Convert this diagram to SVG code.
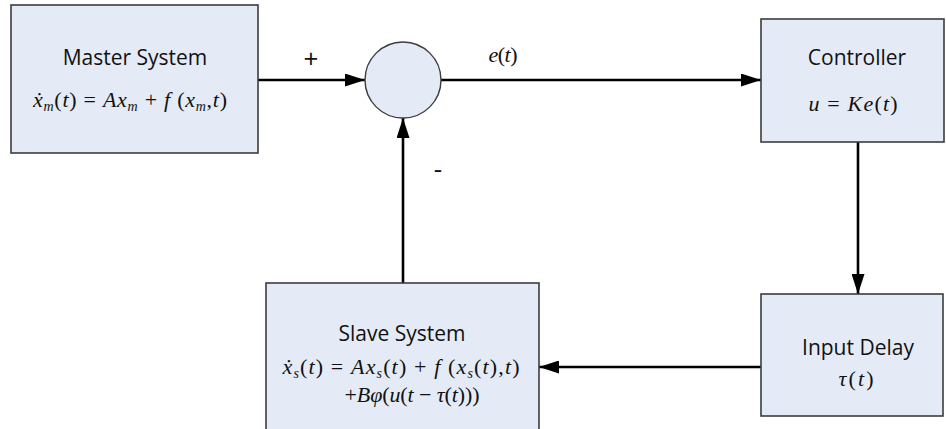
<svg xmlns="http://www.w3.org/2000/svg" width="946" height="429" viewBox="0 0 946 429">
<style>
.box{fill:#E5EBF6;stroke:#3c3c3c;stroke-width:1.6}
.title{font-family:"Open Sans","Liberation Sans",sans-serif;font-size:21px;fill:#111;text-anchor:middle}
.math{font-family:"Liberation Serif","DejaVu Serif",serif;font-size:22px;fill:#111;text-anchor:middle}
.i{font-style:italic}
.sub{font-style:italic;font-size:14px}
.sign{font-family:"Open Sans","Liberation Sans",sans-serif;font-size:26px;fill:#111;text-anchor:middle}
.wire{stroke:#000;stroke-width:2.6;fill:none}
</style>
<defs>
<marker id="arr" markerUnits="userSpaceOnUse" markerWidth="20" markerHeight="13" refX="20" refY="6.5" orient="auto">
<path d="M0,0 L20,6.5 L0,13 z" fill="#000"/>
</marker>
</defs>
<g id="connectors">
<line class="wire" x1="258" y1="80" x2="365" y2="80" marker-end="url(#arr)"/>
<line class="wire" x1="441" y1="80" x2="761" y2="80" marker-end="url(#arr)"/>
<line class="wire" x1="858" y1="142" x2="858" y2="294" marker-end="url(#arr)"/>
<line class="wire" x1="761" y1="367" x2="539" y2="367" marker-end="url(#arr)"/>
<line class="wire" x1="403" y1="283" x2="403" y2="118" marker-end="url(#arr)"/>
<text class="sign" x="311" y="68">+</text>
<text class="sign" x="438" y="178">-</text>
<text class="math" x="503" y="62" textLength="29" lengthAdjust="spacing"><tspan class="i">e</tspan>(<tspan class="i">t</tspan>)</text>
</g>
<g id="master">
<rect class="box" x="11" y="5" width="247" height="148"/>
<text class="title" x="135" y="65">Master System</text>
<text class="math" x="130" y="107" textLength="194" lengthAdjust="spacing"><tspan class="i">ẋ</tspan><tspan class="sub" dy="4">m</tspan><tspan dy="-4">(</tspan><tspan class="i">t</tspan>) = <tspan class="i">Ax</tspan><tspan class="sub" dy="4">m</tspan><tspan dy="-4"> + </tspan><tspan class="i">f</tspan> (<tspan class="i">x</tspan><tspan class="sub" dy="4">m</tspan><tspan dy="-4">,</tspan><tspan class="i">t</tspan>)</text>
</g>
<g id="sum">
<circle cx="403" cy="80" r="38" fill="#E5EBF6" stroke="#3c3c3c" stroke-width="1.4"/>
</g>
<g id="controller">
<rect class="box" x="761" y="19" width="183" height="123"/>
<text class="title" x="857" y="65">Controller</text>
<text class="math" x="853" y="111" textLength="89" lengthAdjust="spacing"><tspan class="i">u</tspan> = <tspan class="i">Ke</tspan>(<tspan class="i">t</tspan>)</text>
</g>
<g id="delay">
<rect class="box" x="761" y="294" width="182" height="122"/>
<text class="title" x="858" y="355">Input Delay</text>
<text class="math" x="856" y="386" textLength="35" lengthAdjust="spacing"><tspan class="i">τ</tspan>(<tspan class="i">t</tspan>)</text>
</g>
<g id="slave">
<rect class="box" x="266" y="283" width="273" height="160"/>
<text class="title" x="402" y="341">Slave System</text>
<text class="math" x="401" y="374" textLength="237" lengthAdjust="spacing"><tspan class="i">ẋ</tspan><tspan class="sub" dy="4">s</tspan><tspan dy="-4">(</tspan><tspan class="i">t</tspan>) = <tspan class="i">Ax</tspan><tspan class="sub" dy="4">s</tspan><tspan dy="-4">(</tspan><tspan class="i">t</tspan>) + <tspan class="i">f</tspan> (<tspan class="i">x</tspan><tspan class="sub" dy="4">s</tspan><tspan dy="-4">(</tspan><tspan class="i">t</tspan>),<tspan class="i">t</tspan>)</text>
<text class="math" x="412" y="402" textLength="135" lengthAdjust="spacing">+<tspan class="i">Bφ</tspan>(<tspan class="i">u</tspan>(<tspan class="i">t</tspan> − <tspan class="i">τ</tspan>(<tspan class="i">t</tspan>)))</text>
</g>
</svg>
